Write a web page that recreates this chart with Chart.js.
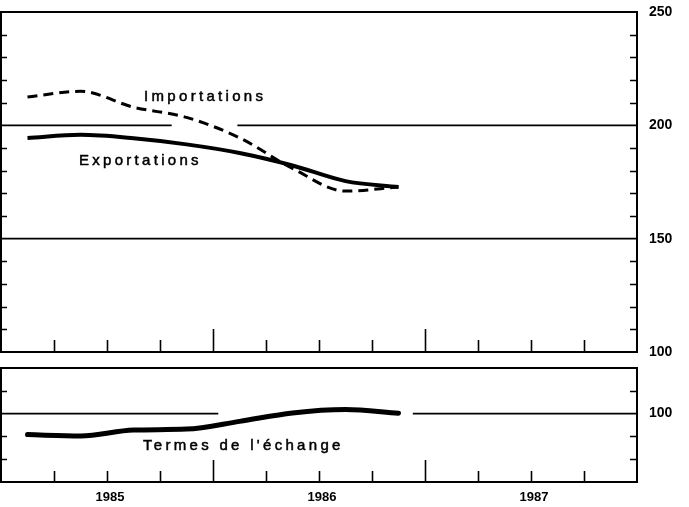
<!DOCTYPE html>
<html><head><meta charset="utf-8">
<script src="https://cdn.jsdelivr.net/npm/chart.js@4.4.1/dist/chart.umd.min.js"></script>
<style>
html,body{margin:0;padding:0;background:#fff;width:689px;height:507px;overflow:hidden;}
#c1{position:absolute;left:0;top:0;}
#c2{position:absolute;left:0;top:358px;}
</style></head><body>
<canvas id="c1" width="689" height="365"></canvas>
<canvas id="c2" width="689" height="149"></canvas>
<script>
// Quarterly data (indices, 1985 T1 .. 1986 T4)
const quarters = ['1985 T1','1985 T2','1985 T3','1985 T4','1986 T1','1986 T2','1986 T3','1986 T4'];
const importations = [212.5, 215.0, 208.0, 203.5, 194.5, 181.0, 171.0, 172.8];
const exportations = [194.4, 195.8, 194.3, 191.6, 187.8, 182.3, 175.4, 172.8];
const termesEchange = [90.8, 90.2, 92.8, 93.2, 96.6, 100.3, 101.8, 100.2];
const yearLabels = {2: '1985', 6: '1986', 10: '1987'};
const topTickLabels = [100, 150, 200, 250];
const bottomTickLabels = [100];
// reference lines (x in quarters from start of 1985)
const ref200 = [[0, 3.22], [4.46, 12]];
const ref150 = [[0, 12]];
const ref100 = [[0, 4.1], [7.77, 12]];

const FONT = '"Liberation Sans", Arial, Helvetica, sans-serif';
const pts = arr => arr.map((v, i) => ({x: i + 0.5, y: v}));
const segs = (list, y) => {
  const out = [];
  list.forEach((s, k) => { if (k) out.push({x: (list[k-1][1] + s[0]) / 2, y: null}); out.push({x: s[0], y}); out.push({x: s[1], y}); });
  return out;
};

const framePlugin = {
  id: 'frame',
  afterDatasetsDraw(chart, args, o) {
    const {ctx, chartArea: a, scales} = chart;
    const xs = scales.x, ys = scales.y;
    ctx.save();
    ctx.strokeStyle = '#000';
    ctx.lineWidth = 2;
    ctx.strokeRect(a.left, a.top, a.right - a.left, a.bottom - a.top);
    ctx.lineWidth = 1.6;
    ctx.beginPath();
    o.yMinor.forEach(v => {
      const y = Math.round(ys.getPixelForValue(v)) + 0.5;
      ctx.moveTo(a.left, y); ctx.lineTo(a.left + 6, y);
      ctx.moveTo(a.right, y); ctx.lineTo(a.right - 7, y);
    });
    for (let q = 1; q < 12; q++) {
      const x = Math.round(xs.getPixelForValue(q)) + 0.5;
      const len = (q % 4 === 0) ? o.major : o.minor;
      ctx.moveTo(x, a.bottom); ctx.lineTo(x, a.bottom - len);
    }
    ctx.stroke();
    // annotations
    ctx.fillStyle = '#000';
    ctx.strokeStyle = '#000';
    ctx.lineWidth = 0.5;
    ctx.font = '15px ' + FONT;
    ctx.textBaseline = 'alphabetic';
    ctx.textAlign = 'left';
    try { ctx.letterSpacing = '3.3px'; } catch (e) {}
    o.texts.forEach(t => {
      const px = xs.getPixelForValue(t.x), py = ys.getPixelForValue(t.y);
      ctx.fillText(t.text, px, py);
      ctx.strokeText(t.text, px, py);
    });
    ctx.restore();
  }
};

const xCommon = (showLabels) => ({
  type: 'linear', min: 0, max: 12,
  display: showLabels,
  grid: {display: false, drawTicks: false},
  border: {display: false},
  ticks: {
    stepSize: 1, autoSkip: false, padding: 8, maxRotation: 0, labelOffset: 3,
    color: '#000', font: {family: FONT, size: 13, weight: 'bold'},
    callback: v => yearLabels[v] || ''
  },
  afterFit: s => { if (showLabels) s.height = 25; s.paddingLeft = 0; s.paddingRight = 0; }
});

const yFit = s => { s.width = 52; s.paddingTop = 0; s.paddingBottom = 0; };

const refStyle = {borderColor: '#000', borderWidth: 1.6, pointRadius: 0, tension: 0, spanGaps: false};

new Chart(document.getElementById('c1'), {
  type: 'line',
  data: {datasets: [
    Object.assign({label: 'ref200', data: segs(ref200, 200)}, refStyle),
    Object.assign({label: 'ref150', data: segs(ref150, 150)}, refStyle),
    {label: 'Importations', data: pts(importations), borderColor: '#000', borderWidth: 3, borderDash: [10, 6], pointRadius: 0, tension: 0.3, cubicInterpolationMode: 'monotone'},
    {label: 'Exportations', data: pts(exportations), borderColor: '#000', borderWidth: 4, pointRadius: 0, tension: 0.3, cubicInterpolationMode: 'monotone'}
  ]},
  options: {
    responsive: false, animation: false, devicePixelRatio: 1,
    layout: {padding: {left: 1, top: 12, bottom: 13, right: 0}},
    plugins: {legend: {display: false}, tooltip: {enabled: false},
      frame: {yMinor: [240,230,220,210,190,180,170,160,140,130,120,110], major: 23, minor: 12,
        texts: [{text: 'Importations', x: 2.70, y: 210.7}, {text: 'Exportations', x: 1.47, y: 182.5}]}},
    scales: {
      x: xCommon(false),
      y: {
        position: 'right', min: 100, max: 250,
        grid: {display: false, drawTicks: false}, border: {display: false},
        ticks: {stepSize: 50, padding: 12, color: '#000', font: {family: FONT, size: 14, weight: 'bold'},
          callback: v => topTickLabels.includes(v) ? String(v) : ''},
        afterFit: yFit
      }
    }
  },
  plugins: [framePlugin]
});

new Chart(document.getElementById('c2'), {
  type: 'line',
  data: {datasets: [
    Object.assign({label: 'ref100', data: segs(ref100, 100)}, refStyle),
    {label: "Termes de l'échange", data: pts(termesEchange), borderColor: '#000', borderWidth: 5, pointRadius: 0, tension: 0.3, cubicInterpolationMode: 'monotone', borderCapStyle: 'round'}
  ]},
  options: {
    responsive: false, animation: false, devicePixelRatio: 1,
    layout: {padding: {left: 1, top: 10, bottom: 0, right: 0}},
    plugins: {legend: {display: false}, tooltip: {enabled: false},
      frame: {yMinor: [110, 90, 80], major: 22, minor: 11,
        texts: [{text: "Termes de l'échange", x: 2.68, y: 84.0}]}},
    scales: {
      x: xCommon(true),
      y: {
        position: 'right', min: 70, max: 120,
        grid: {display: false, drawTicks: false}, border: {display: false},
        ticks: {stepSize: 10, padding: 12, color: '#000', font: {family: FONT, size: 14, weight: 'bold'},
          callback: v => bottomTickLabels.includes(v) ? String(v) : ''},
        afterFit: yFit
      }
    }
  },
  plugins: [framePlugin]
});
</script>
</body></html>
